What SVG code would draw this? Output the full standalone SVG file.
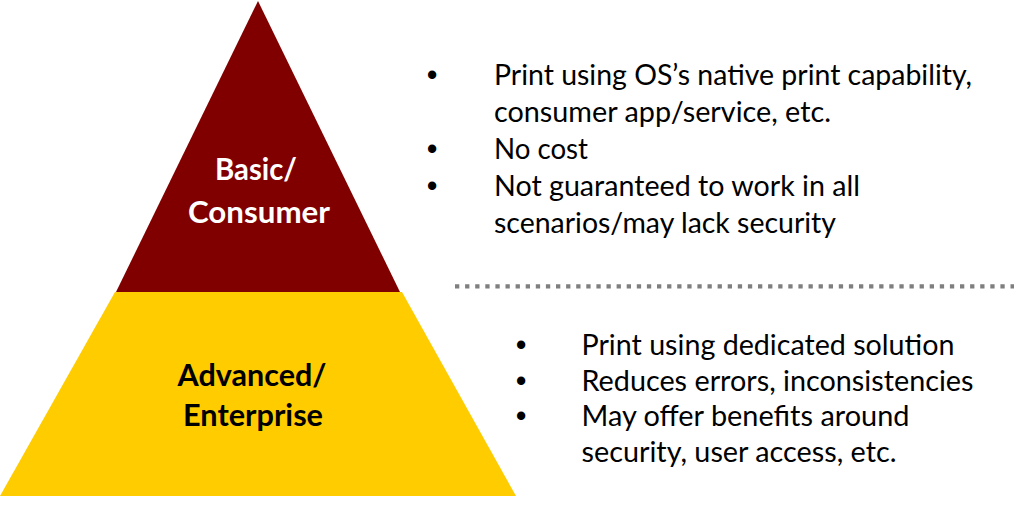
<svg xmlns="http://www.w3.org/2000/svg" width="1024" height="528" viewBox="0 0 1024 528">
  <style>
    .label { font-family: "Lato", "Liberation Sans", sans-serif; font-weight: bold; font-size: 30px; text-anchor: middle; }
    .note { font-family: "Lato", "Liberation Sans", sans-serif; font-size: 29px; fill: #000000; }
    .bullet { font-family: "Liberation Sans", sans-serif; font-size: 30.67px; fill: #000000; text-anchor: middle; }
  </style>
  <rect x="0" y="0" width="1024" height="528" fill="#ffffff"/>

  <g id="tier-basic">
    <polygon points="258,1 400,292 116,292" fill="#800000"/>
    <text class="label" fill="#ffffff" x="256" y="180" textLength="82" lengthAdjust="spacingAndGlyphs">Basic/</text>
    <text class="label" fill="#ffffff" x="259" y="223" textLength="142" lengthAdjust="spacingAndGlyphs">Consumer</text>
  </g>

  <g id="tier-advanced">
    <polygon points="115,292 402,292 516,496 0,496" fill="#FFCC00"/>
    <text class="label" fill="#000000" x="252" y="386" textLength="149" lengthAdjust="spacingAndGlyphs">Advanced/</text>
    <text class="label" fill="#000000" x="253" y="426" textLength="140" lengthAdjust="spacingAndGlyphs">Enterprise</text>
  </g>

  <g id="separator">
    <line x1="455" y1="286.3" x2="1014" y2="286.3" stroke="#7F7F7F" stroke-width="4.3" stroke-dasharray="4.3 5.8"/>
  </g>

  <g id="notes-basic">
    <text class="bullet" x="432" y="84.5">•</text>
    <text class="note" x="494" y="84.5" textLength="478" lengthAdjust="spacingAndGlyphs">Print using OS’s native print capability,</text>
    <text class="note" x="494" y="121.5" textLength="337" lengthAdjust="spacingAndGlyphs">consumer app/service, etc.</text>
    <text class="bullet" x="432" y="158.5">•</text>
    <text class="note" x="494" y="158.5" textLength="94" lengthAdjust="spacingAndGlyphs">No cost</text>
    <text class="bullet" x="432" y="195.5">•</text>
    <text class="note" x="494" y="195.5" textLength="366" lengthAdjust="spacingAndGlyphs">Not guaranteed to work in all</text>
    <text class="note" x="494" y="232.5" textLength="342" lengthAdjust="spacingAndGlyphs">scenarios/may lack security</text>
  </g>

  <g id="notes-advanced">
    <text class="bullet" x="521" y="355">•</text>
    <text class="note" x="581.5" y="355" textLength="373" lengthAdjust="spacingAndGlyphs">Print using dedicated solution</text>
    <text class="bullet" x="521" y="391">•</text>
    <text class="note" x="581.5" y="391" textLength="392" lengthAdjust="spacingAndGlyphs">Reduces errors, inconsistencies</text>
    <text class="bullet" x="521" y="426">•</text>
    <text class="note" x="581.5" y="426" textLength="328" lengthAdjust="spacingAndGlyphs">May offer benefits around</text>
    <text class="note" x="581.5" y="462" textLength="315" lengthAdjust="spacingAndGlyphs">security, user access, etc.</text>
  </g>
</svg>
